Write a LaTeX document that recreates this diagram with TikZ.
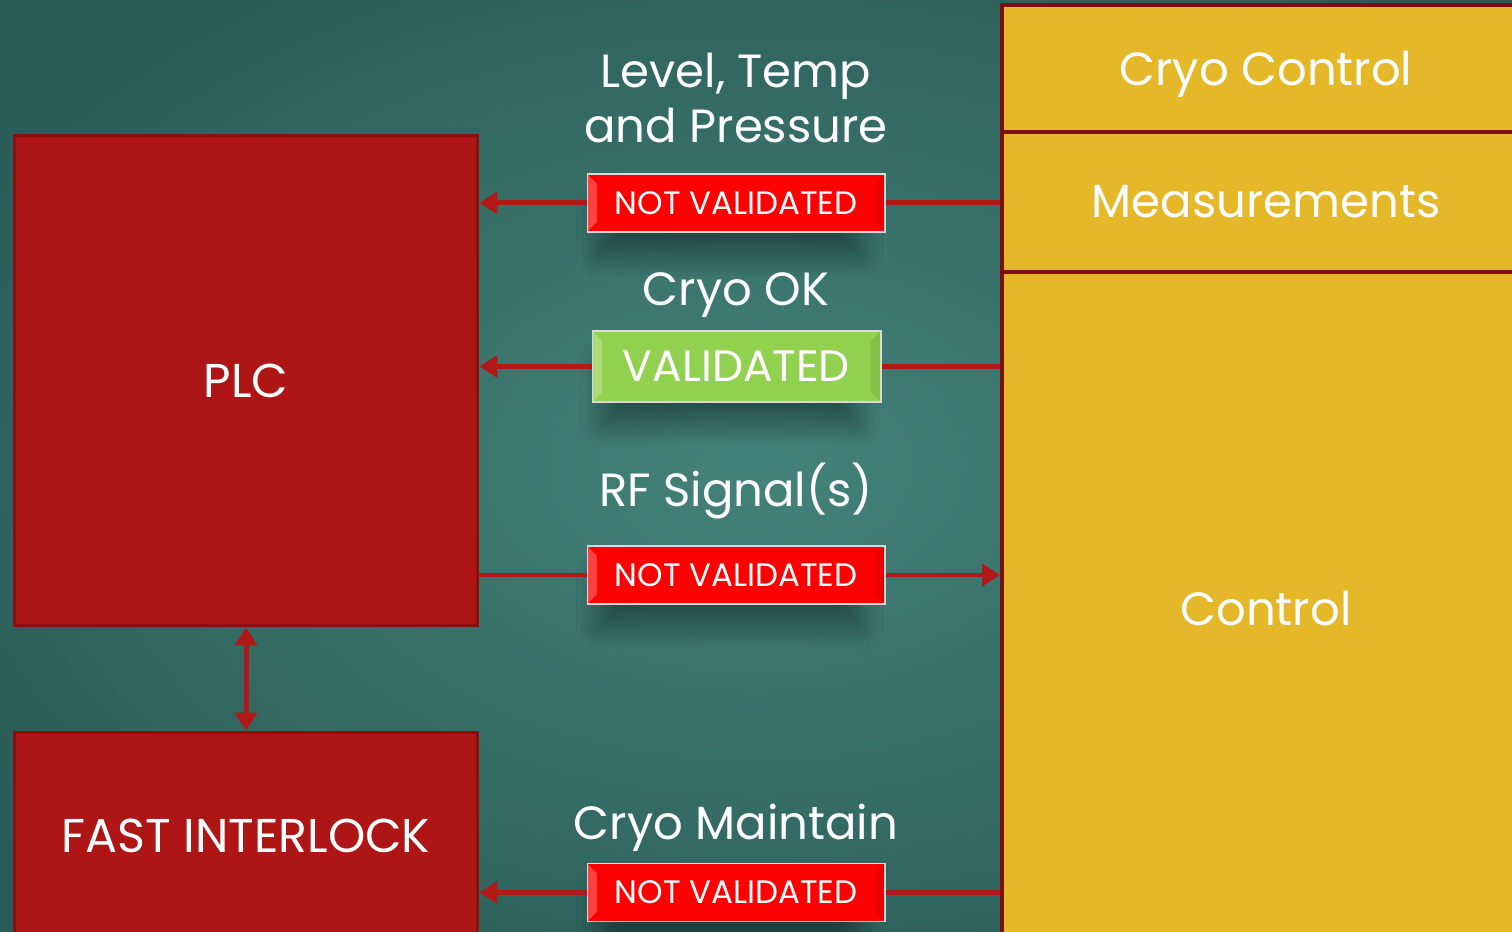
\documentclass[tikz,border=0pt]{standalone}
\usepackage{fontspec}
\setmainfont{Poppins}
\usetikzlibrary{positioning, arrows.meta, shadows.blur}

\definecolor{tealdark}{HTML}{2A5A55}
\definecolor{teallight}{HTML}{43827A}
\definecolor{plcred}{HTML}{AE1515}
\definecolor{plcedge}{HTML}{8A1010}
\definecolor{cryoyellow}{HTML}{E5B82A}
\definecolor{cryoedge}{HTML}{7E0E0E}
\definecolor{sigred}{HTML}{B11818}
\definecolor{badgered}{HTML}{FF0000}
\definecolor{badgegreen}{HTML}{92D050}

\tikzset{
  plcbox/.style={rectangle, draw=plcedge, line width=0.06cm, fill=plcred, text=white, font=\fontsize{27}{32}\selectfont},
  cryobox/.style={rectangle, draw=cryoedge, line width=0.08cm, fill=cryoyellow, text=white, font=\fontsize{26.5}{32}\selectfont},
  badge/.style={rectangle, draw=white!70!gray, line width=0.6pt, text=white, inner sep=0pt,
    blur shadow={shadow xshift=-0.15cm, shadow yshift=-0.6cm, shadow blur radius=0.5cm, shadow blur steps=24, shadow opacity=38, shadow scale=0.88},
    path picture={
      \fill[white, opacity=0.25] (path picture bounding box.north west) -- ++(0.2cm,-0.2cm) |- ([xshift=0.2cm,yshift=0.2cm]path picture bounding box.south west) -- (path picture bounding box.south west) -- cycle;
      \fill[black, opacity=0.08] (path picture bounding box.north east) -- ++(-0.2cm,-0.2cm) |- ([xshift=-0.2cm,yshift=0.2cm]path picture bounding box.south east) -- (path picture bounding box.south east) -- cycle;
    }},
  notval/.style={badge, fill=badgered, minimum width=5.96cm, minimum height=1.16cm, font=\fontsize{18.5}{22}\selectfont},
  isval/.style={badge, fill=badgegreen, minimum width=5.78cm, minimum height=1.42cm, font=\fontsize{25}{30}\selectfont},
  caption/.style={text=white, align=center, font=\fontsize{26.5}{31}\selectfont},
  sigline/.style={draw=sigred, line width=0.1cm},
  sigtip/.style={-{Triangle[length=0.36cm, width=0.44cm]}}
}

\begin{document}
\begin{tikzpicture}[x=0.02cm, y=-0.02cm]
    \clip (0,0) rectangle (1512,932);
    % Background
    \shade[inner color=teallight, outer color=tealdark] (-200,-150) rectangle (1712,1082);

    % Blocks
    \node[plcbox, minimum width=9.28cm, minimum height=9.82cm] (plc) at (246,380.5) {PLC};
    \node[plcbox, minimum width=9.28cm, minimum height=4.16cm] (fast) at (246,836) {FAST INTERLOCK};
    \node[cryobox, text depth=0pt, minimum width=10.56cm, minimum height=2.54cm] (cryoctl) at (1266,68.5) {Cryo Control};
    \node[cryobox, minimum width=10.56cm, minimum height=2.8cm] (meas) at (1266,202) {Measurements};
    \node[cryobox, minimum width=10.56cm, minimum height=13.46cm] (ctrl) at (1266,608.5) {Control};

    % Badges
    \node[notval] (b1) at (736,203) {NOT VALIDATED};
    \node[isval] (b2) at (736.5,366.5) {VALIDATED};
    \node[notval] (b3) at (736,575) {NOT VALIDATED};
    \node[notval] (b4) at (736,892.5) {NOT VALIDATED};

    % Signal names
    \node[caption] (lvl) at (736,98) {Level, Temp\\and Pressure};
    \node[caption] (cok) at (736,295) {Cryo OK};
    \node[caption] (rfs) at (736,491) {RF Signal(s)};
    \node[caption] (cmt) at (736,828) {Cryo Maintain};

    % Arrows
    \draw[sigline] (meas.west |- b1) -- (b1.east);
    \draw[sigline, sigtip] (b1.west) -- (plc.east |- b1);
    \draw[sigline] (ctrl.west |- b2) -- (b2.east);
    \draw[sigline, sigtip] (b2.west) -- (plc.east |- b2);
    \draw[sigline] (plc.east |- b3) -- (b3.west);
    \draw[sigline, sigtip] (b3.east) -- (ctrl.west |- b3);
    \draw[sigline] (ctrl.west |- b4) -- (b4.east);
    \draw[sigline, sigtip] (b4.west) -- (fast.east |- b4);
    \draw[sigline, {Triangle[length=0.36cm, width=0.44cm]}-{Triangle[length=0.36cm, width=0.44cm]}] (plc.south) -- (fast.north);
\end{tikzpicture}
\end{document}
